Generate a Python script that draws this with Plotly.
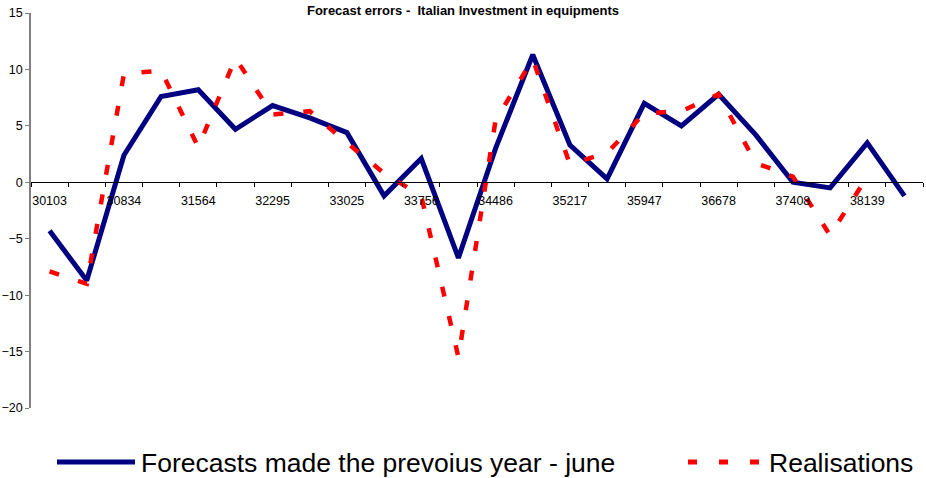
import plotly.graph_objects as go

# Excel date serials (1 June of each year, 1982-2005)
dates = [30103, 30468, 30834, 31199, 31564, 31929, 32295, 32660, 33025, 33390,
         33756, 34121, 34486, 34851, 35217, 35582, 35947, 36312, 36678, 37043,
         37408, 37773, 38139, 38504]

forecasts = [-4.3, -8.7, 2.4, 7.6, 8.2, 4.7, 6.8, 5.7, 4.4, -1.2,
             2.1, -6.7, 3.0, 11.3, 3.3, 0.3, 7.0, 5.0, 7.8, 4.2,
             0.0, -0.5, 3.5, -1.2]

realisations = [-7.9, -9.0, 9.6, 9.9, 3.1, 11.0, 6.0, 6.3, 3.5, 0.8,
                -1.2, -15.5, 5.5, 10.9, 1.6, 2.6, 6.1, 6.3, 7.8, 1.7,
                0.5, -4.7, 0.5, None]

y_ticks = [-20, -15, -10, -5, 0, 5, 10, 15]

forecast_name = "Forecasts made the prevoius year - june"
real_name = "Realisations"
title_text = "Forecast errors -  Italian Investment in equipments"

W, H = 926, 478
ML, MR, MT, MB = 31, 3, 13, 70
FONT = "Liberation Sans, Arial, sans-serif"

idx = list(range(len(dates)))

fig = go.Figure()
fig.add_trace(go.Scatter(x=idx, y=forecasts, mode="lines", name=forecast_name,
                         line=dict(color="#000080", width=5)))
fig.add_trace(go.Scatter(x=idx, y=realisations, mode="lines", name=real_name,
                         line=dict(color="#FF0000", width=4.5, dash="10px,20px")))

y_min, y_max = y_ticks[0], y_ticks[-1]

fig.update_layout(
    width=W, height=H,
    margin=dict(l=ML, r=MR, t=MT, b=MB),
    paper_bgcolor="white", plot_bgcolor="white",
    showlegend=False,
    font=dict(family=FONT, color="black"),
    title=dict(text="<b>" + title_text + "</b>", x=463 / W, xref="container",
               xanchor="center", y=1 - 10 / H, yanchor="middle",
               font=dict(size=13, family=FONT, color="black")),
    xaxis=dict(
        range=[-0.5, len(dates) - 0.5],
        anchor="free", position=(0 - y_min) / (y_max - y_min),
        showline=True, linecolor="black", linewidth=1,
        showgrid=False, zeroline=False,
        tickmode="array", tickvals=idx[::2], ticktext=[str(d) for d in dates[::2]],
        ticks="outside", ticklen=4, tickcolor="rgba(0,0,0,0)",
        ticklabelstandoff=3,
        tickfont=dict(size=12.5, family=FONT, color="black"),
        minor=dict(tickmode="array", tickvals=[i - 0.5 for i in range(len(dates) + 1)],
                   ticks="outside", ticklen=4, tickcolor="black", tickwidth=1,
                   showgrid=False),
    ),
    yaxis=dict(
        range=[y_min, y_max],
        tickmode="array", tickvals=y_ticks,
        showline=True, linecolor="#808080", linewidth=1.5,
        ticks="outside", ticklen=4, tickcolor="#808080",
        showgrid=False, zeroline=False,
        tickfont=dict(size=12.5, family=FONT, color="black"),
    ),
)

# Legend drawn below the plot area
plot_w = W - ML - MR
plot_h = H - MT - MB


def px_x(p):
    return (p - ML) / plot_w


def px_y(p):
    return (H - MB - p) / plot_h


leg_y = 462
fig.add_shape(type="line", xref="paper", yref="paper",
              x0=px_x(57), x1=px_x(135), y0=px_y(leg_y), y1=px_y(leg_y),
              line=dict(color="#000080", width=5))
fig.add_shape(type="line", xref="paper", yref="paper",
              x0=px_x(688), x1=px_x(761), y0=px_y(leg_y), y1=px_y(leg_y),
              line=dict(color="#FF0000", width=5, dash="9px,22px"))
fig.add_annotation(text=forecast_name, xref="paper", yref="paper",
                   x=px_x(139), y=px_y(leg_y + 1), xanchor="left", yanchor="middle",
                   showarrow=False, font=dict(size=26.5, family=FONT, color="black"))
fig.add_annotation(text=real_name, xref="paper", yref="paper",
                   x=px_x(767), y=px_y(leg_y + 1), xanchor="left", yanchor="middle",
                   showarrow=False, font=dict(size=26.5, family=FONT, color="black"))

fig.write_html("out.html")
